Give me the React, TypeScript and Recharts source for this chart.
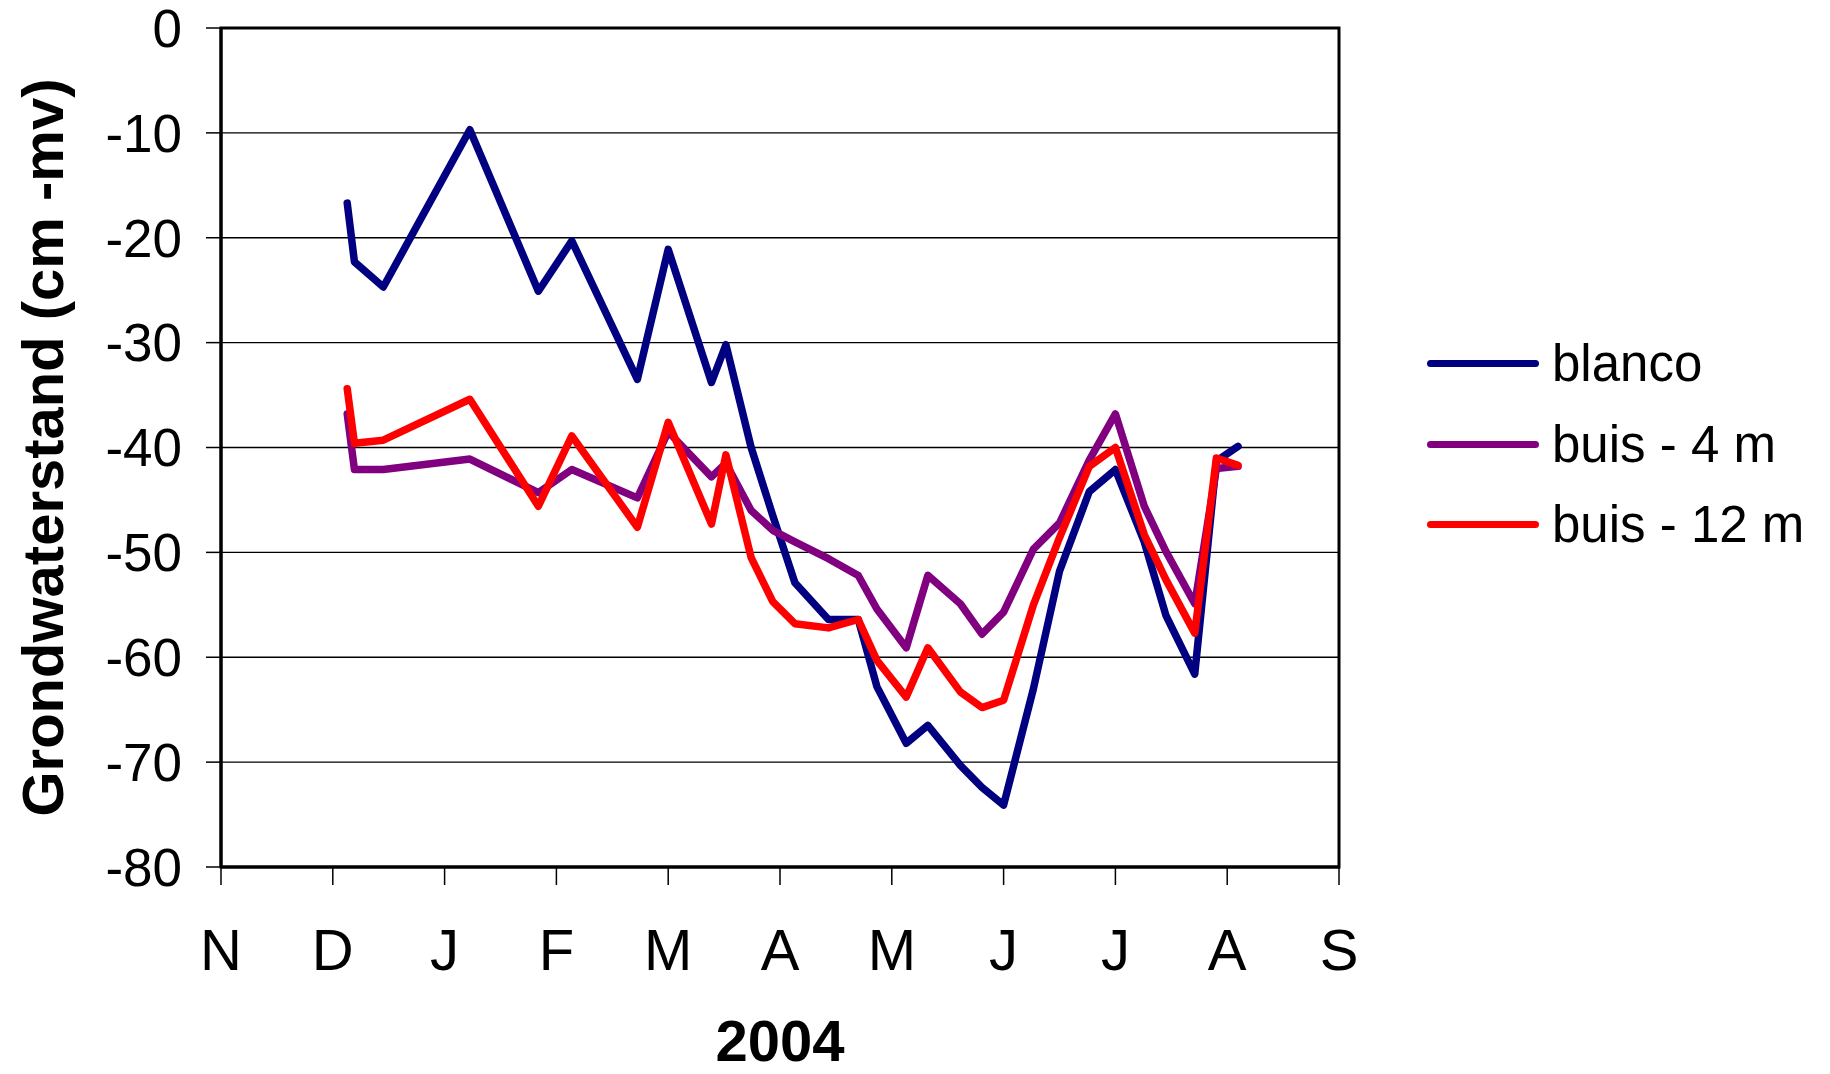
import { LineChart, Line, XAxis, YAxis, CartesianGrid, Legend, ReferenceArea } from "recharts";

const FONT = '"Liberation Sans", Arial, Helvetica, sans-serif';

const dates = [
  "2003-12-05", "2003-12-07", "2003-12-15", "2004-01-08", "2004-01-27", "2004-02-05",
  "2004-02-22", "2004-03-01", "2004-03-13", "2004-03-17", "2004-03-24", "2004-03-30",
  "2004-04-05", "2004-04-14", "2004-04-22", "2004-04-27", "2004-05-05", "2004-05-11",
  "2004-05-20", "2004-05-26", "2004-06-01", "2004-06-09", "2004-06-16", "2004-06-24",
  "2004-07-01", "2004-07-09", "2004-07-15", "2004-07-23", "2004-07-29", "2004-08-04",
];

const blanco = [
  -16.7, -22.3, -24.7, -9.7, -25.1, -20.3, -33.5, -21.1, -33.8, -30.2, -40.0, -46.5,
  -52.9, -56.4, -56.4, -62.8, -68.2, -66.5, -70.3, -72.4, -74.1, -63.0, -51.8, -44.2,
  -42.1, -49.0, -56.0, -61.6, -41.3, -39.9,
];

const buis4 = [
  -36.8, -42.1, -42.1, -41.1, -44.3, -42.1, -44.8, -38.5, -42.8, -41.5, -46.0, -47.9,
  -49.0, -50.6, -52.2, -55.4, -59.1, -52.2, -54.9, -57.8, -55.7, -49.7, -47.2, -41.2,
  -36.8, -45.6, -49.9, -54.9, -42.0, -41.8,
];

const buis12 = [
  -34.4, -39.6, -39.3, -35.4, -45.6, -38.9, -47.6, -37.6, -47.3, -40.7, -50.5, -54.7,
  -56.8, -57.2, -56.4, -60.3, -63.8, -59.1, -63.3, -64.8, -64.1, -55.0, -48.6, -41.8,
  -40.0, -48.3, -52.6, -57.7, -41.0, -41.7,
];

const monthStarts = [
  "2003-11-01", "2003-12-01", "2004-01-01", "2004-02-01", "2004-03-01", "2004-04-01",
  "2004-05-01", "2004-06-01", "2004-07-01", "2004-08-01", "2004-09-01",
];
const monthLabels = ["N", "D", "J", "F", "M", "A", "M", "J", "J", "A", "S"];
const yTicks = [-80, -70, -60, -50, -40, -30, -20, -10, 0];
const legendOrder = ["blanco", "buis - 4 m", "buis - 12 m"];

// months since 1 Nov 2003, as a fraction (each month gets equal width, like the original axis)
const monthPos = (s: string) => {
  const [y, m, d] = s.split("-").map(Number);
  const daysInMonth = new Date(Date.UTC(y, m, 0)).getUTCDate();
  return (y - 2003) * 12 + (m - 1) - 10 + (d - 1) / daysInMonth;
};

const rows = dates.map((d, i) => ({
  pos: monthPos(d),
  blanco: blanco[i],
  buis4: buis4[i],
  buis12: buis12[i],
}));
const tickPos = monthStarts.map(monthPos);
const lastPos = tickPos[tickPos.length - 1];

function LegendBox({ payload }: any) {
  const items = [...(payload || [])].sort(
    (a: any, b: any) => legendOrder.indexOf(a.value) - legendOrder.indexOf(b.value)
  );
  return (
    <div style={{ fontFamily: FONT, color: "#000" }}>
      {items.map((p: any) => (
        <div key={p.value} style={{ display: "flex", alignItems: "center", height: 80.7 }}>
          <span style={{ display: "inline-block", width: 112, height: 7, borderRadius: 4, background: p.color }} />
          <span style={{ marginLeft: 13, fontSize: 51, lineHeight: 1, whiteSpace: "nowrap" }}>{p.value}</span>
        </div>
      ))}
    </div>
  );
}

export default function App() {
  return (
    <div style={{ position: "absolute", left: 0, top: 0, background: "#fff" }}>
      <LineChart
        width={1830}
        height={1074}
        data={rows}
        margin={{ top: 28, right: 491, bottom: 0, left: 0 }}
      >
        <CartesianGrid vertical={false} stroke="#000" strokeWidth={1.3} />
        <XAxis
          dataKey="pos"
          type="number"
          domain={[0, lastPos]}
          ticks={tickPos}
          tickFormatter={(v: number) => monthLabels[tickPos.indexOf(v)] ?? ""}
          height={207}
          interval={0}
          tickSize={18}
          tickMargin={44}
          axisLine={{ stroke: "#000", strokeWidth: 3 }}
          tickLine={{ stroke: "#000", strokeWidth: 1.5 }}
          tick={{ fill: "#000", fontSize: 58, fontFamily: FONT }}
          label={{
            value: "2004",
            position: "insideBottom",
            offset: 13,
            style: { fontSize: 58, fontWeight: "bold", fill: "#000", fontFamily: FONT },
          }}
        />
        <YAxis
          type="number"
          domain={[-80, 0]}
          ticks={yTicks}
          interval={0}
          width={221}
          tickSize={15}
          tickMargin={24}
          axisLine={{ stroke: "#000", strokeWidth: 3 }}
          tickLine={{ stroke: "#000", strokeWidth: 1.5 }}
          tick={{ fill: "#000", fontSize: 53, fontFamily: FONT }}
          label={{
            value: "Grondwaterstand (cm -mv)",
            angle: -90,
            position: "insideLeft",
            offset: 42,
            style: { textAnchor: "middle", fontSize: 58, fontWeight: "bold", fill: "#000", fontFamily: FONT },
          }}
        />
        <ReferenceArea x1={0} x2={lastPos} y1={-80} y2={0} fill="none" stroke="#000" strokeWidth={3} />
        <Legend
          layout="vertical"
          align="center"
          verticalAlign="middle"
          content={<LegendBox />}
          wrapperStyle={{ left: 1427, top: 323, width: 400, height: 250 }}
        />
        <Line
          name="blanco"
          dataKey="blanco"
          type="linear"
          stroke="#000080"
          strokeWidth={7.5}
          strokeLinecap="round"
          strokeLinejoin="round"
          dot={false}
          isAnimationActive={false}
        />
        <Line
          name="buis - 4 m"
          dataKey="buis4"
          type="linear"
          stroke="#800080"
          strokeWidth={7.5}
          strokeLinecap="round"
          strokeLinejoin="round"
          dot={false}
          isAnimationActive={false}
        />
        <Line
          name="buis - 12 m"
          dataKey="buis12"
          type="linear"
          stroke="#FF0000"
          strokeWidth={7.5}
          strokeLinecap="round"
          strokeLinejoin="round"
          dot={false}
          isAnimationActive={false}
        />
      </LineChart>
    </div>
  );
}
